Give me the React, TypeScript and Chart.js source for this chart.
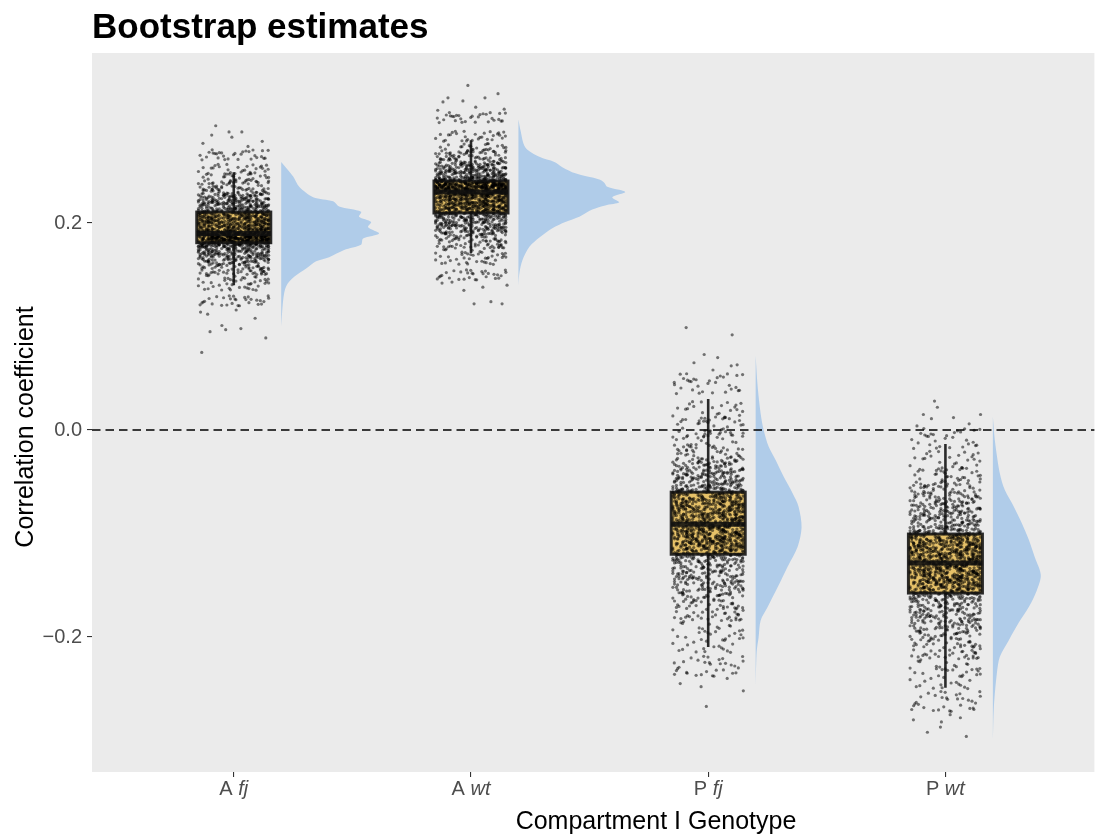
import React, { useEffect, useRef } from 'react';
import { Chart, registerables } from 'chart.js';

Chart.register(...registerables);

// ---------- data ----------
const CATEGORY_MAIN = ['A', 'A', 'P', 'P'];
const CATEGORY_ITALIC = ['fj', 'wt', 'fj', 'wt'];
const Y_TICKS = [-0.2, 0, 0.2];

// boxplot statistics per group
const BOX_LOW = [0.14, 0.171, -0.2097, -0.249];
const BOX_Q1 = [0.181, 0.2097, -0.12, -0.1575];
const BOX_MED = [0.19, 0.23, -0.091, -0.1285];
const BOX_Q3 = [0.2106, 0.2406, -0.06, -0.1005];
const BOX_HIGH = [0.249, 0.28, 0.03, -0.0135];

// estimated bootstrap quantiles (levels 1%, 3%, ..., 99%)
const Q_A_FJ = [0.125, 0.14, 0.15, 0.1552, 0.1604, 0.1642, 0.1666, 0.169, 0.1714, 0.1738, 0.1762, 0.1786, 0.181, 0.1817, 0.1824, 0.1832, 0.1839, 0.1846, 0.1853, 0.186, 0.1868, 0.1875, 0.1882, 0.1889, 0.1896, 0.1908, 0.1925, 0.1941, 0.1958, 0.1974, 0.1991, 0.2007, 0.2024, 0.204, 0.2057, 0.2073, 0.209, 0.2106, 0.2129, 0.2152, 0.2176, 0.2199, 0.2222, 0.2245, 0.2268, 0.231, 0.237, 0.243, 0.252, 0.266];
const Q_A_WT = [0.15, 0.165, 0.175, 0.181, 0.187, 0.1913, 0.1939, 0.1966, 0.1992, 0.2018, 0.2045, 0.2071, 0.2097, 0.2113, 0.2129, 0.2146, 0.2162, 0.2178, 0.2194, 0.221, 0.2227, 0.2243, 0.2259, 0.2275, 0.2292, 0.2304, 0.2313, 0.2321, 0.233, 0.2338, 0.2347, 0.2355, 0.2364, 0.2372, 0.2381, 0.2389, 0.2398, 0.2406, 0.2429, 0.2452, 0.2476, 0.2499, 0.2522, 0.2545, 0.2568, 0.2608, 0.2664, 0.272, 0.284, 0.302];
const Q_P_FJ = [-0.228, -0.205, -0.185, -0.1742, -0.1634, -0.1554, -0.1502, -0.145, -0.1398, -0.1346, -0.1294, -0.1242, -0.119, -0.1168, -0.1145, -0.1123, -0.11, -0.1078, -0.1056, -0.1033, -0.1011, -0.0988, -0.0966, -0.0944, -0.0921, -0.0898, -0.0873, -0.0848, -0.0823, -0.0798, -0.0774, -0.0749, -0.0724, -0.0699, -0.0674, -0.065, -0.0625, -0.06, -0.056, -0.052, -0.048, -0.044, -0.04, -0.036, -0.032, -0.0234, -0.0102, 0.003, 0.018, 0.045];
const Q_P_WT = [-0.262, -0.24, -0.222, -0.2112, -0.2004, -0.1924, -0.1873, -0.1822, -0.177, -0.1719, -0.1668, -0.1616, -0.1565, -0.1543, -0.152, -0.1498, -0.1475, -0.1453, -0.1431, -0.1408, -0.1386, -0.1363, -0.1341, -0.1319, -0.1296, -0.1274, -0.1251, -0.1229, -0.1206, -0.1184, -0.1162, -0.1139, -0.1117, -0.1094, -0.1072, -0.105, -0.1027, -0.1005, -0.096, -0.0916, -0.0871, -0.0826, -0.0782, -0.0737, -0.0692, -0.0628, -0.0544, -0.046, -0.03, -0.008];
const QUANTILES = [Q_A_FJ, Q_A_WT, Q_P_FJ, Q_P_WT];

// horizontal jitter offsets (category units) and small vertical spreads
const JITTER = [0.112, -0.087, 0.031, -0.142, 0.064, -0.019, 0.138, -0.061, 0.005, 0.097, -0.123, 0.046, -0.038, 0.121, -0.104, 0.073, -0.007, -0.149, 0.089, 0.018, -0.072, 0.147, -0.029, 0.056, -0.115, 0.127, -0.051, 0.009, -0.095, 0.081, 0.038, -0.134, 0.103, -0.014, 0.069, -0.079, 0.145, -0.043, 0.024, -0.108, 0.132, -0.066, 0.051, -0.001, -0.129, 0.094, -0.024, 0.117, -0.091, 0.061];
const NUDGE = [0, 0.0031, -0.0042, 0.0018, -0.0013, 0.0047, -0.0027, 0.0009, -0.0049, 0.0036, -0.0006, 0.0024, -0.0035, 0.0043, -0.0019, 0.0013, -0.0045, 0.0028, -0.0031, 0.0005, 0.0039, -0.0022, 0.0011, -0.004, 0.0021, -0.0009, 0.0046, -0.0033, 0.0016, -0.0047];
const NUDGE_SPREAD = [1, 1, 2, 2];

// stray extreme estimates [jitter, value]
const STRAY_A_FJ = [[-0.076, 0.294], [-0.02, 0.288], [0.034, 0.288], [-0.093, 0.285], [-0.008, 0.283], [0.12, 0.279], [-0.13, 0.277], [0.06, 0.274], [0.135, 0.089], [-0.1, 0.095], [-0.034, 0.097], [0.03, 0.098], [-0.135, 0.075], [-0.14, 0.114], [-0.05, 0.101], [0.09, 0.108], [-0.11, 0.112], [0.01, 0.116]];
const STRAY_A_WT = [[-0.013, 0.333], [0.114, 0.325], [0.059, 0.321], [-0.097, 0.321], [-0.118, 0.317], [-0.034, 0.318], [0.02, 0.312], [0.14, 0.31], [-0.14, 0.309], [0.013, 0.122], [0.084, 0.124], [0.131, 0.122], [-0.122, 0.142], [-0.08, 0.143], [0.152, 0.14], [-0.03, 0.135], [0.05, 0.138]];
const STRAY_P_FJ = [[-0.093, 0.099], [0.101, 0.092], [-0.017, 0.073], [-0.143, 0.046], [-0.118, 0.054], [0.097, 0.062], [0.122, 0.063], [0.04, 0.07], [-0.06, 0.065], [0.02, 0.058], [-0.008, -0.267], [0.148, -0.252], [-0.118, -0.245], [-0.089, -0.235], [-0.143, -0.225], [0.034, -0.232], [0.08, -0.24], [-0.03, -0.248]];
const STRAY_P_WT = [[-0.046, 0.028], [-0.034, 0.022], [0.148, 0.015], [-0.093, 0.015], [0.034, 0.012], [-0.059, 0.011], [0.1, 0.006], [-0.12, 0.004], [0.088, -0.296], [-0.076, -0.292], [-0.021, -0.287], [-0.135, -0.28], [0.063, -0.278], [-0.114, -0.265], [-0.017, -0.282], [0.12, -0.27], [0.02, -0.275]];
const STRAYS = [STRAY_A_FJ, STRAY_A_WT, STRAY_P_FJ, STRAY_P_WT];

// half-violin density profiles (value, relative density)
const DENS_Y_A_FJ = [0.259, 0.245, 0.235, 0.225, 0.221, 0.216, 0.211, 0.206, 0.201, 0.196, 0.19, 0.185, 0.179, 0.174, 0.167, 0.163, 0.156, 0.148, 0.139, 0.126, 0.1];
const DENS_W_A_FJ = [0, 12, 18, 32, 52, 58, 80, 78, 90, 87, 98, 82, 80, 63, 48, 35, 25, 13, 5, 2, 0];
const DENS_Y_A_WT = [0.3, 0.29, 0.273, 0.264, 0.259, 0.254, 0.248, 0.242, 0.239, 0.235, 0.23, 0.225, 0.22, 0.217, 0.213, 0.206, 0.201, 0.195, 0.186, 0.177, 0.164, 0.152, 0.14];
const DENS_W_A_WT = [0, 2, 7, 21, 36, 44, 57, 81, 86, 89, 107, 94, 101, 87, 74, 61, 47, 34, 21, 11, 4, 1, 0];
const DENS_Y_P_FJ = [0.072, 0.042, 0.016, 0, -0.016, -0.029, -0.045, -0.061, -0.074, -0.094, -0.113, -0.132, -0.152, -0.171, -0.184, -0.2, -0.215, -0.249];
const DENS_W_P_FJ = [0, 2, 5, 8, 13, 20, 28, 37, 43, 46, 42, 32, 22, 12, 5, 3, 1, 0];
const DENS_Y_P_WT = [0.013, -0.01, -0.042, -0.058, -0.074, -0.09, -0.106, -0.123, -0.14, -0.155, -0.171, -0.186, -0.203, -0.219, -0.235, -0.268, -0.3];
const DENS_W_P_WT = [0, 2, 7, 12, 21, 29, 36, 42, 48, 44, 36, 26, 16, 7, 4, 1, 0];
const DENS_Y = [DENS_Y_A_FJ, DENS_Y_A_WT, DENS_Y_P_FJ, DENS_Y_P_WT];
const DENS_W = [DENS_W_A_FJ, DENS_W_A_WT, DENS_W_P_FJ, DENS_W_P_WT];

// ---------- styling / layout constants ----------
const FONT = '"Liberation Sans", Arial, Helvetica, sans-serif';
const X_MIN = 0.4024;
const X_MAX = 4.628;
const Y_MIN = -0.3304;
const Y_MAX = 0.3643;
const BOX_HALF = 0.156;
const VIOLIN_GAP = 0.2;
const DENS_SCALE = 1 / 237.6;
const BOX_FILL = '#E6C168';
const VIOLIN_FILL = '#B0CCE9';
const PANEL_BG = '#EBEBEB';

function cloud(g: number) {
  const out: { x: number; y: number }[] = [];
  const q = QUANTILES[g];
  for (let i = 0; i < q.length; i++) {
    for (let k = 0; k < NUDGE.length; k++) {
      out.push({
        x: g + 1 + JITTER[(i * 7 + k * 11) % JITTER.length],
        y: q[i] + NUDGE[k] * NUDGE_SPREAD[g],
      });
    }
  }
  for (const [dx, y] of STRAYS[g]) out.push({ x: g + 1 + dx, y });
  return out;
}

function violin(g: number) {
  return DENS_Y[g].map((y, j) => ({ x: g + 1 + VIOLIN_GAP + DENS_W[g][j] * DENS_SCALE, y }));
}

function fmtTick(v: number) {
  if (Math.abs(v) < 1e-9) return '0.0';
  return (v < 0 ? '\u2212' : '') + Math.abs(v).toFixed(1);
}

const rainPlugin = {
  id: 'raincloud',
  beforeDraw(chart: any) {
    const { ctx, chartArea: a } = chart;
    ctx.save();
    ctx.fillStyle = PANEL_BG;
    ctx.fillRect(a.left, a.top, a.right - a.left, a.bottom - a.top);
    ctx.restore();
  },
  beforeDatasetsDraw(chart: any) {
    const { ctx } = chart;
    const xs = chart.scales.x;
    const ys = chart.scales.y;
    ctx.save();
    ctx.fillStyle = BOX_FILL;
    for (let g = 0; g < 4; g++) {
      const x0 = xs.getPixelForValue(g + 1 - BOX_HALF);
      const x1 = xs.getPixelForValue(g + 1 + BOX_HALF);
      const yT = ys.getPixelForValue(BOX_Q3[g]);
      const yB = ys.getPixelForValue(BOX_Q1[g]);
      ctx.fillRect(x0, yT, x1 - x0, yB - yT);
    }
    ctx.restore();
  },
  afterDatasetsDraw(chart: any) {
    const { ctx, chartArea: a } = chart;
    const xs = chart.scales.x;
    const ys = chart.scales.y;
    ctx.save();
    ctx.strokeStyle = 'rgba(15,15,15,0.88)';
    for (let g = 0; g < 4; g++) {
      const xc = xs.getPixelForValue(g + 1);
      const x0 = xs.getPixelForValue(g + 1 - BOX_HALF);
      const x1 = xs.getPixelForValue(g + 1 + BOX_HALF);
      const yT = ys.getPixelForValue(BOX_Q3[g]);
      const yB = ys.getPixelForValue(BOX_Q1[g]);
      const yM = ys.getPixelForValue(BOX_MED[g]);
      const yHi = ys.getPixelForValue(BOX_HIGH[g]);
      const yLo = ys.getPixelForValue(BOX_LOW[g]);
      ctx.lineWidth = 2.6;
      ctx.beginPath();
      ctx.moveTo(xc, yHi);
      ctx.lineTo(xc, yT);
      ctx.moveTo(xc, yB);
      ctx.lineTo(xc, yLo);
      ctx.stroke();
      ctx.lineWidth = 3;
      ctx.strokeRect(x0, yT, x1 - x0, yB - yT);
      ctx.lineWidth = 5;
      ctx.beginPath();
      ctx.moveTo(x0, yM);
      ctx.lineTo(x1, yM);
      ctx.stroke();
    }
    // dashed zero line
    const y0 = Math.round(ys.getPixelForValue(0));
    ctx.strokeStyle = '#000000';
    ctx.lineWidth = 1.7;
    ctx.setLineDash([8.5, 5]);
    ctx.beginPath();
    ctx.moveTo(a.left, y0);
    ctx.lineTo(a.right, y0);
    ctx.stroke();
    ctx.restore();
  },
  afterDraw(chart: any) {
    const { ctx } = chart;
    const xs = chart.scales.x;
    ctx.save();
    // title
    ctx.fillStyle = '#000000';
    ctx.font = 'bold 35px ' + FONT;
    ctx.textAlign = 'left';
    ctx.textBaseline = 'alphabetic';
    ctx.fillText('Bootstrap estimates', 92, 38);
    // x tick labels with italic genotype
    ctx.fillStyle = '#4D4D4D';
    for (let g = 0; g < 4; g++) {
      const main = CATEGORY_MAIN[g] + ' ';
      const ital = CATEGORY_ITALIC[g];
      ctx.font = '20px ' + FONT;
      const w1 = ctx.measureText(main).width;
      ctx.font = 'italic 20px ' + FONT;
      const w2 = ctx.measureText(ital).width;
      const start = xs.getPixelForValue(g + 1) - (w1 + w2) / 2;
      ctx.font = '20px ' + FONT;
      ctx.fillText(main, start, 795);
      ctx.font = 'italic 20px ' + FONT;
      ctx.fillText(ital, start + w1, 795);
    }
    // axis titles
    ctx.fillStyle = '#000000';
    ctx.font = '25px ' + FONT;
    ctx.textAlign = 'center';
    ctx.fillText('Compartment I Genotype', 656, 829);
    ctx.translate(33, 427);
    ctx.rotate(-Math.PI / 2);
    ctx.fillText('Correlation coefficient', 0, 0);
    ctx.restore();
  },
};

export default function App() {
  const ref = useRef<HTMLCanvasElement | null>(null);
  useEffect(() => {
    if (!ref.current) return;
    const datasets: any[] = [];
    for (let g = 0; g < 4; g++) {
      datasets.push({
        data: violin(g),
        showLine: true,
        fill: 'shape',
        backgroundColor: VIOLIN_FILL,
        borderColor: 'transparent',
        borderWidth: 0,
        pointRadius: 0,
        tension: 0.3,
      });
    }
    for (let g = 0; g < 4; g++) {
      datasets.push({
        data: cloud(g),
        showLine: false,
        pointRadius: 1.6,
        pointHoverRadius: 1.6,
        pointBackgroundColor: 'rgba(0,0,0,0.52)',
        pointBorderWidth: 0,
        pointBorderColor: 'transparent',
      });
    }
    const tickGrid = {
      display: true,
      drawOnChartArea: false,
      drawTicks: true,
      tickLength: 5,
      color: '#333333',
      lineWidth: 1.1,
    };
    const chart = new Chart(ref.current, {
      type: 'scatter',
      data: { datasets },
      plugins: [rainPlugin],
      options: {
        animation: false,
        responsive: false,
        devicePixelRatio: 1,
        events: [],
        layout: { padding: { top: 53, left: 0, right: 0, bottom: 0 } },
        plugins: {
          legend: { display: false },
          tooltip: { enabled: false },
          title: { display: false },
        },
        scales: {
          x: {
            type: 'linear',
            min: X_MIN,
            max: X_MAX,
            afterBuildTicks: (axis: any) => {
              axis.ticks = [1, 2, 3, 4].map((v) => ({ value: v }));
            },
            afterFit: (axis: any) => {
              axis.height = 67;
            },
            grid: tickGrid,
            border: { display: false },
            ticks: { callback: () => '', font: { family: FONT, size: 20 } },
          },
          y: {
            type: 'linear',
            min: Y_MIN,
            max: Y_MAX,
            afterBuildTicks: (axis: any) => {
              axis.ticks = Y_TICKS.map((v) => ({ value: v }));
            },
            afterFit: (axis: any) => {
              axis.width = 92;
            },
            grid: tickGrid,
            border: { display: false },
            ticks: {
              color: '#4D4D4D',
              padding: 5,
              font: { family: FONT, size: 20 },
              callback: (v: any) => fmtTick(Number(v)),
            },
          },
        },
      } as any,
    });
    return () => chart.destroy();
  }, []);
  return (
    <div style={{ position: 'absolute', left: 0, top: 0, width: 1096, height: 839, background: '#ffffff' }}>
      <canvas ref={ref} width={1096} height={839} />
    </div>
  );
}
